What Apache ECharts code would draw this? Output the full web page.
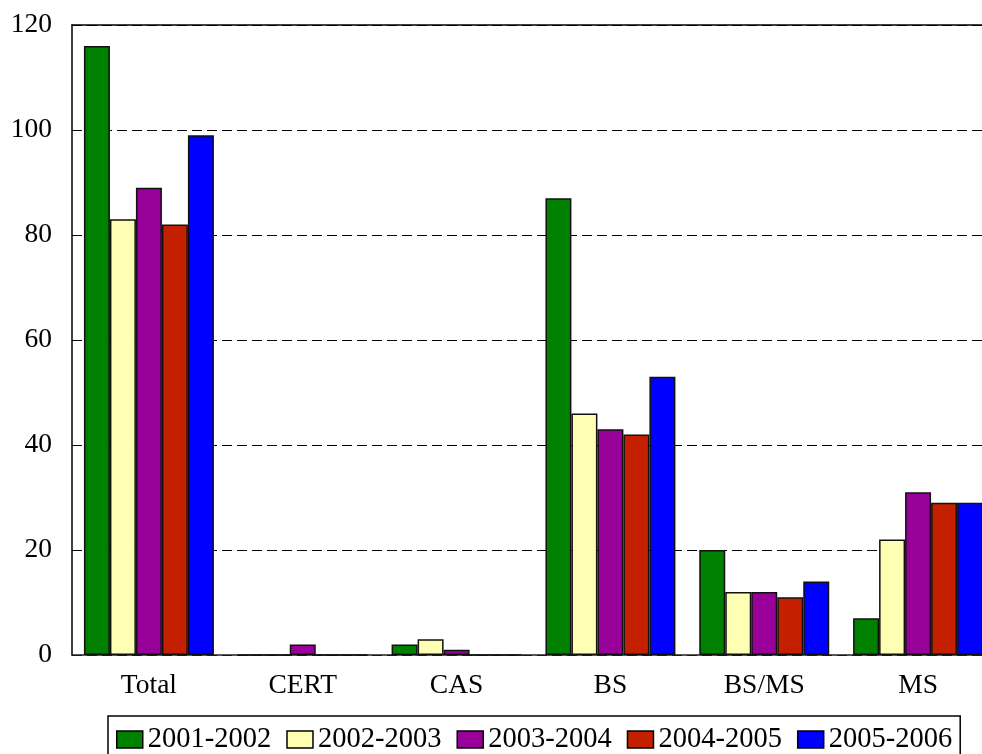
<!DOCTYPE html>
<html>
<head>
<meta charset="utf-8">
<script src="https://cdn.jsdelivr.net/npm/echarts@6/dist/echarts.min.js"></script>
<style>html,body{margin:0;padding:0;background:#fff;overflow:hidden;}#c{width:982px;height:754px;}</style>
</head>
<body>
<div id="c"></div>
<script>
const categories = ['Total', 'CERT', 'CAS', 'BS', 'BS/MS', 'MS'];
const seriesNames = ['2001-2002', '2002-2003', '2003-2004', '2004-2005', '2005-2006'];
const s2001 = [116, 0, 2, 87, 20, 7];
const s2002 = [83, 0, 3, 46, 12, 22];
const s2003 = [89, 2, 1, 43, 12, 31];
const s2004 = [82, 0, 0, 42, 11, 29];
const s2005 = [99, 0, 0, 53, 14, 29];
const yTicks = [0, 20, 40, 60, 80, 100, 120];
const colors = ['#008000', '#ffffb3', '#990099', '#c42000', '#0000ff'];
const allData = [s2001, s2002, s2003, s2004, s2005];

const font = '"Liberation Serif", "Times New Roman", serif';
const chart = echarts.init(document.getElementById('c'));
chart.setOption({
  animation: false,
  color: colors,
  grid: { left: 72, top: 25, width: 923, height: 630, containLabel: false, outerBoundsMode: 'none' },
  xAxis: [{
    type: 'category',
    data: categories,
    axisLine: { show: true, lineStyle: { color: '#222', width: 1.5 } },
    axisTick: { show: false },
    axisLabel: { fontFamily: font, fontSize: 27.5, color: '#000', margin: 17 },
    splitLine: { show: false }
  }, {
    type: 'category',
    position: 'top',
    data: categories,
    axisLine: { show: true, onZero: false, lineStyle: { color: '#000', width: 1.5 } },
    axisTick: { show: false },
    axisLabel: { show: false }
  }],
  yAxis: {
    type: 'value',
    min: yTicks[0],
    max: yTicks[yTicks.length - 1],
    interval: 20,
    axisLine: { show: true, lineStyle: { color: '#000', width: 1.5 } },
    axisTick: { show: false },
    axisLabel: { fontFamily: font, fontSize: 27.5, color: '#000', margin: 20 },
    splitLine: { show: true, lineStyle: { type: [10, 5], color: '#000', width: 1 } }
  },
  legend: {
    data: seriesNames,
    left: 108,
    top: 716,
    orient: 'horizontal',
    itemWidth: 26,
    itemHeight: 17,
    itemGap: 15,
    padding: [9, 8, 4, 8],
    borderColor: '#000',
    borderWidth: 1.5,
    borderRadius: 0,
    icon: 'rect',
    textStyle: { fontFamily: font, fontSize: 28.5, color: '#000' },
    itemStyle: { borderColor: '#000', borderWidth: 1.5 }
  },
  series: seriesNames.map((n, i) => ({
    name: n,
    type: 'bar',
    data: allData[i],
    barGap: '0%',
    barCategoryGap: '15.5%',
    itemStyle: { color: colors[i], borderColor: '#111', borderWidth: 1.5 }
  }))
});
</script>
</body>
</html>
